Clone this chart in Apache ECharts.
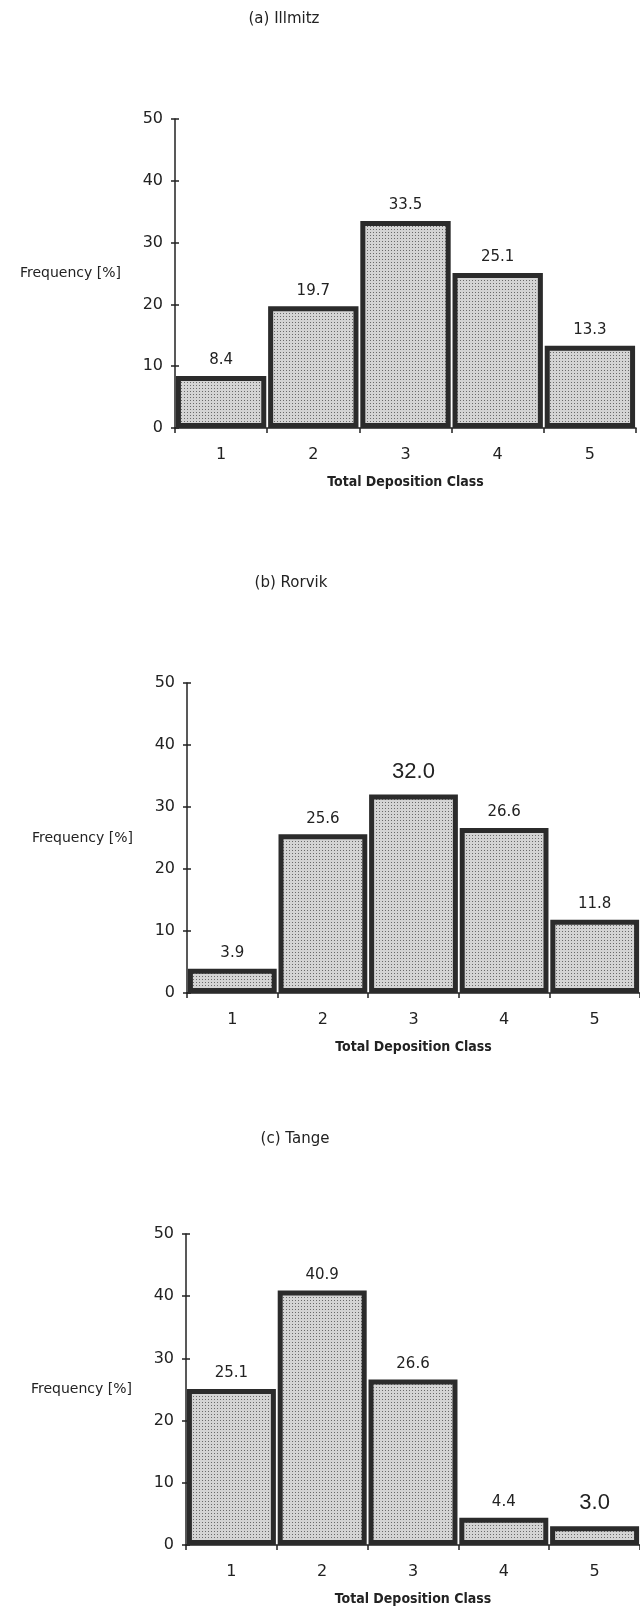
<!DOCTYPE html>
<html>
<head>
<meta charset="utf-8">
<script src="https://cdn.jsdelivr.net/npm/echarts@6/dist/echarts.min.js"></script>
<style>
  html, body { margin: 0; padding: 0; background: #fff; }
  #chart { width: 640px; height: 1614px; }
</style>
</head>
<body>
<div id="chart"></div>
<script>
// Deposition classes and frequency (%) per station
const classes = ['1', '2', '3', '4', '5'];
const illmitz = [8.4, 19.7, 33.5, 25.1, 13.3];
const rorvik = [3.9, 25.6, 32.0, 26.6, 11.8];
const tange = [25.1, 40.9, 26.6, 4.4, 3.0];
const panelTitles = ['(a) Illmitz', '(b) Rorvik', '(c) Tange'];
const yMin = 0, yMax = 50, yStep = 10;

// Panel geometry (pixels)
const panels = [
  { values: illmitz, left: 175, top: 119, height: 309, width: 461, titleX: 279, titleY: 7, big: [] },
  { values: rorvik,  left: 187, top: 683, height: 310, width: 461, titleX: 286, titleY: 571, big: [2] },
  { values: tange,   left: 186, top: 1234, height: 311, width: 460, titleX: 290, titleY: 1127, big: [4] }
];

// Stippled grey fill for the bars
function stipple() {
  const c = document.createElement('canvas');
  c.width = 3; c.height = 3;
  const g = c.getContext('2d');
  g.fillStyle = '#d4d4d4';
  g.fillRect(0, 0, 3, 3);
  g.fillStyle = '#6a6a6a';
  g.fillRect(1, 1, 1, 1);
  return c;
}
const fill = { image: stipple(), repeat: 'repeat' };

const ink = '#222';
const font = 'DejaVu Sans';

const option = {
  backgroundColor: '#fff',
  animation: false,
  title: panels.map((p, i) => ({
    text: panelTitles[i],
    left: p.titleX, top: p.titleY, textAlign: 'center',
    textStyle: { fontFamily: font, fontSize: 15, fontWeight: 'normal', color: ink }
  })),
  grid: panels.map(p => ({ left: p.left, top: p.top, height: p.height, width: p.width, containLabel: false })),
  xAxis: panels.map((p, i) => ({
    type: 'category', gridIndex: i, data: classes,
    name: 'Total Deposition Class', nameLocation: 'middle', nameGap: 47,
    nameTextStyle: { fontFamily: 'DejaVu Sans Condensed', fontWeight: 'bold', fontSize: 14, color: ink },
    axisLine: { lineStyle: { color: ink, width: 1.5 } },
    axisTick: { show: true, length: 5, lineStyle: { color: ink, width: 1.5 } },
    axisLabel: { margin: 19, fontFamily: font, fontSize: 16, color: ink },
    splitLine: { show: false }
  })),
  yAxis: panels.flatMap((p, i) => ([
    {
      type: 'value', gridIndex: i, position: 'left', min: yMin, max: yMax, interval: yStep,
      name: 'Frequency [%]', nameLocation: 'middle', nameRotate: 0, nameGap: 54,
      nameTextStyle: { fontFamily: font, fontSize: 14, color: ink, align: 'right', verticalAlign: 'middle' },
      axisLine: { show: true, lineStyle: { color: ink, width: 1.5 } },
      axisTick: { show: true, length: 4, lineStyle: { color: ink, width: 1.5 } },
      axisLabel: { margin: 12, fontFamily: font, fontSize: 16, color: ink },
      splitLine: { show: false }
    },
    {
      // inner half of the crossing tick marks
      type: 'value', gridIndex: i, position: 'left', offset: 0, min: yMin, max: yMax, interval: yStep,
      axisLine: { show: false },
      axisTick: { show: true, inside: true, length: 4, lineStyle: { color: ink, width: 1.5 } },
      axisLabel: { show: false },
      splitLine: { show: false }
    }
  ])),
  series: panels.map((p, i) => ({
    type: 'bar', xAxisIndex: i, yAxisIndex: i * 2,
    barCategoryGap: '2%',
    itemStyle: { color: fill, borderColor: '#2b2b2b', borderWidth: 5 },
    label: {
      show: true, position: 'top', distance: 8,
      fontFamily: font, fontSize: 15, color: ink,
      formatter: d => d.value.toFixed(1)
    },
    data: p.values.map((v, k) => p.big.includes(k)
      ? { value: v, label: { fontFamily: 'Liberation Sans', fontSize: 22, distance: 12 } }
      : v)
  }))
};

echarts.init(document.getElementById('chart'), null, { renderer: 'canvas' }).setOption(option);
</script>
</body>
</html>
